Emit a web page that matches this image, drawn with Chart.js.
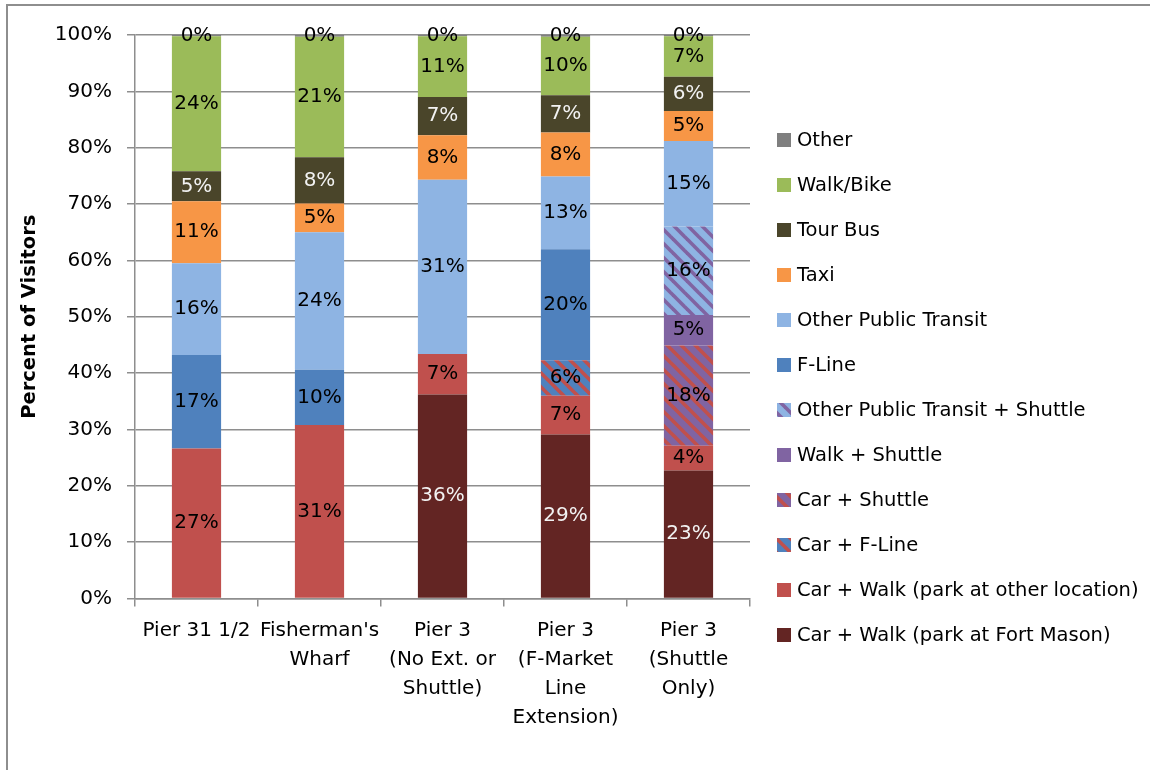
<!DOCTYPE html>
<html>
<head>
<meta charset="utf-8">
<title>Visitor Mode Share</title>
<script src="https://cdn.jsdelivr.net/npm/chart.js@4"></script>
<style>
  html, body { margin: 0; background: #fff; overflow: hidden; }
  #frame { position: absolute; left: 6px; top: 4px; width: 1200px; height: 800px;
           border-left: 2px solid #8e8e8e; border-top: 2px solid #8e8e8e; }
  #wrap { position: absolute; left: 0; top: 0; width: 1150px; height: 770px; }
</style>
</head>
<body>
<div id="frame"></div>
<div id="wrap"><canvas id="modeChart" width="1150" height="770"></canvas></div>
<script>
// Sites surveyed
const sites = [
  'Pier 31 1/2',
  ["Fisherman's", 'Wharf'],
  ['Pier 3', '(No Ext. or', 'Shuttle)'],
  ['Pier 3', '(F-Market', 'Line', 'Extension)'],
  ['Pier 3', '(Shuttle', 'Only)']
];

// Mode share (% of visitors), bottom of the stack first
const carWalkFortMason = [0, 0, 36.2, 29.1, 22.7];
const carWalkOther     = [26.6, 30.8, 7.2, 6.9, 4.4];
const carFLine         = [0, 0, 0, 6.3, 0];
const carShuttle       = [0, 0, 0, 0, 17.8];
const walkShuttle      = [0, 0, 0, 0, 5.4];
const transitShuttle   = [0, 0, 0, 0, 15.7];
const fLine            = [16.6, 9.8, 0, 19.7, 0];
const otherTransit     = [16.3, 24.4, 30.9, 12.9, 15.2];
const taxi             = [11.0, 5.1, 7.9, 7.8, 5.3];
const tourBus          = [5.3, 8.2, 6.8, 6.6, 6.1];
const walkBike         = [24.0, 21.4, 10.8, 10.4, 7.2];
const other            = [0.2, 0.3, 0.2, 0.3, 0.2];

const yTicks = [0, 10, 20, 30, 40, 50, 60, 70, 80, 90, 100];

const FONT = "'DejaVu Sans', sans-serif";
Chart.defaults.font.family = FONT;
Chart.defaults.color = '#000';

// Diagonal hatch used for the combined modes
function stripes(bg, fg) {
  const c = document.createElement('canvas');
  c.width = c.height = 14;
  const g = c.getContext('2d');
  g.fillStyle = bg;
  g.fillRect(0, 0, 14, 14);
  g.strokeStyle = fg;
  g.lineWidth = 3.6;
  for (const o of [-14, 0, 14]) {
    g.beginPath();
    g.moveTo(o - 2, -2);
    g.lineTo(o + 16, 16);
    g.stroke();
  }
  return g.createPattern(c, 'repeat');
}

const RED = '#c0504d', BLUE = '#4f81bd', PURPLE = '#8064a2', LIGHTBLUE = '#8eb4e3';

// Percent labels in the middle of each segment
const segmentLabels = {
  id: 'segmentLabels',
  afterDatasetsDraw(chart) {
    const ctx = chart.ctx;
    ctx.save();
    ctx.font = '20px ' + FONT;
    ctx.textAlign = 'center';
    ctx.textBaseline = 'middle';
    chart.data.datasets.forEach((ds, i) => {
      chart.getDatasetMeta(i).data.forEach((bar, j) => {
        const v = ds.data[j];
        if (!v) return;
        ctx.fillStyle = ds.labelColor || '#000';
        ctx.fillText(Math.round(v) + '%', bar.x, (bar.y + bar.base) / 2);
      });
    });
    ctx.restore();
  }
};

// Legend column to the right of the plot, top series first
const sideLegend = {
  id: 'sideLegend',
  afterDraw(chart) {
    const ctx = chart.ctx;
    const items = Chart.defaults.plugins.legend.labels.generateLabels(chart).reverse();
    const x = chart.chartArea.right + 27;
    ctx.save();
    ctx.font = '19.5px ' + FONT;
    ctx.textAlign = 'left';
    ctx.textBaseline = 'middle';
    items.forEach((item, i) => {
      const y = 140 + i * 45;
      ctx.fillStyle = item.fillStyle;
      ctx.fillRect(x, y - 7, 14, 14);
      ctx.fillStyle = '#000';
      ctx.fillText(item.text, x + 20, y + 1);
    });
    ctx.restore();
  }
};

function series(label, data, bg, labelColor) {
  return { label, data, backgroundColor: bg, borderWidth: 0, labelColor,
           barPercentage: 0.4, categoryPercentage: 1.0 };
}

new Chart(document.getElementById('modeChart'), {
  type: 'bar',
  data: {
    labels: sites,
    datasets: [
      series('Car + Walk (park at Fort Mason)', carWalkFortMason, '#632523', '#f2f2f2'),
      series('Car + Walk (park at other location)', carWalkOther, RED),
      series('Car + F-Line', carFLine, stripes(BLUE, RED)),
      series('Car + Shuttle', carShuttle, stripes(PURPLE, RED)),
      series('Walk + Shuttle', walkShuttle, PURPLE),
      series('Other Public Transit + Shuttle', transitShuttle, stripes(LIGHTBLUE, PURPLE)),
      series('F-Line', fLine, BLUE),
      series('Other Public Transit', otherTransit, LIGHTBLUE),
      series('Taxi', taxi, '#f79646'),
      series('Tour Bus', tourBus, '#4a452a', '#f2f2f2'),
      series('Walk/Bike', walkBike, '#9bbb59'),
      series('Other', other, '#7f7f7f')
    ]
  },
  options: {
    responsive: false,
    animation: false,
    layout: { padding: { top: 35, right: 400, left: 0, bottom: 0 } },
    plugins: {
      tooltip: { enabled: false },
      legend: { display: false }
    },
    scales: {
      x: {
        stacked: true,
        grid: { drawOnChartArea: false, tickLength: 8, color: '#8e8e8e', lineWidth: 1.5 },
        border: { color: '#8e8e8e', width: 1.5 },
        ticks: { color: '#000', font: { size: 20, lineHeight: 1.45 }, padding: 10, maxRotation: 0, autoSkip: false },
        afterFit(s) { s.height = 171.5; }
      },
      y: {
        stacked: true,
        min: 0,
        max: 100,
        afterBuildTicks(s) { s.ticks = yTicks.map(v => ({ value: v })); },
        ticks: { color: '#000', font: { size: 20 }, padding: 15, callback: v => v + '%' },
        grid: { color: '#8e8e8e', lineWidth: 1.5, tickLength: 8 },
        border: { color: '#8e8e8e', width: 1.5 },
        title: { display: true, text: 'Percent of Visitors', color: '#000',
                 font: { size: 19.5, weight: 'bold' }, padding: { top: 18 } },
        afterFit(s) { s.width = 135; }
      }
    }
  },
  plugins: [segmentLabels, sideLegend]
});
</script>
</body>
</html>
